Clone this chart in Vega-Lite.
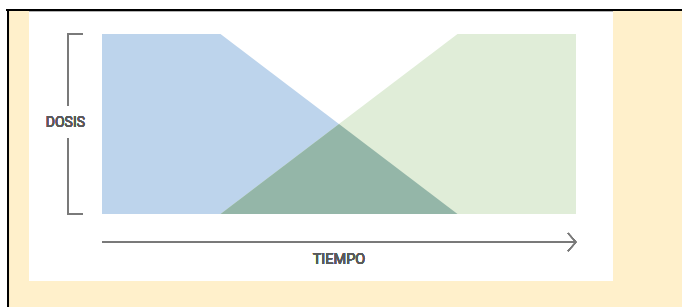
{
  "$schema": "https://vega.github.io/schema/vega-lite/v6.json",
  "width": 474,
  "height": 180,
  "autosize": "none",
  "padding": {"left": 102, "top": 34, "right": 106, "bottom": 93},
  "background": "white",
  "config": {"view": {"stroke": null}},
  "datasets": {
    "dosis": [
      {"serie": "A", "tiempo": 0, "dosis": 1},
      {"serie": "A", "tiempo": 25, "dosis": 1},
      {"serie": "A", "tiempo": 75, "dosis": 0},
      {"serie": "B", "tiempo": 25, "dosis": 0},
      {"serie": "B", "tiempo": 75, "dosis": 1},
      {"serie": "B", "tiempo": 100, "dosis": 1},
      {"serie": "AB", "tiempo": 25, "dosis": 0},
      {"serie": "AB", "tiempo": 50, "dosis": 0.5},
      {"serie": "AB", "tiempo": 75, "dosis": 0}
    ]
  },
  "data": {"name": "dosis"},
  "resolve": {"scale": {"x": "shared", "y": "shared"}},
  "encoding": {
    "x": {"type": "quantitative", "scale": {"domain": [0, 100], "nice": false, "zero": false}, "axis": null},
    "y": {"type": "quantitative", "scale": {"domain": [0, 1], "nice": false}, "axis": null}
  },
  "layer": [
    {
      "mark": {"type": "rect", "fill": "#FFF0CB"},
      "encoding": {"x": {"datum": -19.6}, "x2": {"datum": 122.4}, "y": {"datum": -0.517}, "y2": {"datum": 1.128}}
    },
    {
      "mark": {"type": "rule", "stroke": "#000000", "strokeWidth": 2},
      "encoding": {"x": {"datum": -20.2}, "x2": {"datum": 122.4}, "y": {"datum": 1.133}}
    },
    {
      "mark": {"type": "rule", "stroke": "#000000", "strokeWidth": 2},
      "encoding": {"x": {"datum": -19.83}, "y": {"datum": 1.139}, "y2": {"datum": -0.517}}
    },
    {
      "mark": {"type": "rect", "fill": "#FFFFFF"},
      "encoding": {"x": {"datum": -15.4}, "x2": {"datum": 107.8}, "y": {"datum": -0.372}, "y2": {"datum": 1.128}}
    },
    {
      "mark": {"type": "rule", "stroke": "#B4B4B4", "strokeWidth": 1},
      "encoding": {"x": {"datum": -15.4}, "x2": {"datum": 107.8}, "y": {"datum": 1.125}}
    },
    {
      "transform": [{"filter": "datum.serie === 'A'"}],
      "mark": {"type": "area", "color": "#BDD4EC", "opacity": 1},
      "encoding": {"x": {"field": "tiempo", "type": "quantitative"}, "y": {"field": "dosis", "type": "quantitative", "stack": null}}
    },
    {
      "transform": [{"filter": "datum.serie === 'B'"}],
      "mark": {"type": "area", "color": "#E0EDD8", "opacity": 1},
      "encoding": {"x": {"field": "tiempo", "type": "quantitative"}, "y": {"field": "dosis", "type": "quantitative", "stack": null}}
    },
    {
      "transform": [{"filter": "datum.serie === 'AB'"}],
      "mark": {"type": "area", "color": "#94B6A8", "opacity": 1},
      "encoding": {"x": {"field": "tiempo", "type": "quantitative"}, "y": {"field": "dosis", "type": "quantitative", "stack": null}}
    },
    {
      "mark": {"type": "rule", "stroke": "#7A7A7A", "strokeWidth": 1.3},
      "encoding": {"x": {"datum": -7.17}, "y": {"datum": 1}, "y2": {"datum": 0.6}}
    },
    {
      "mark": {"type": "rule", "stroke": "#7A7A7A", "strokeWidth": 1.3},
      "encoding": {"x": {"datum": -7.17}, "y": {"datum": 0.422}, "y2": {"datum": 0}}
    },
    {
      "mark": {"type": "rule", "stroke": "#7A7A7A", "strokeWidth": 1.3},
      "encoding": {"x": {"datum": -7.3}, "x2": {"datum": -4.0}, "y": {"datum": 1}}
    },
    {
      "mark": {"type": "rule", "stroke": "#7A7A7A", "strokeWidth": 1.3},
      "encoding": {"x": {"datum": -7.3}, "x2": {"datum": -4.0}, "y": {"datum": 0}}
    },
    {
      "mark": {"type": "text", "text": "DOSIS", "font": "Roboto", "fontSize": 14, "fontWeight": 400, "fill": "#5A5A5A", "align": "center", "baseline": "middle"},
      "encoding": {"x": {"datum": -7.72}, "y": {"datum": 0.506}}
    },
    {
      "mark": {"type": "rule", "stroke": "#7A7A7A", "strokeWidth": 1.2},
      "encoding": {"x": {"datum": 0}, "x2": {"datum": 100}, "y": {"datum": -0.156}}
    },
    {
      "mark": {"type": "rule", "stroke": "#7A7A7A", "strokeWidth": 1.2},
      "encoding": {"x": {"datum": 98.3}, "x2": {"datum": 100}, "y": {"datum": -0.106}, "y2": {"datum": -0.156}}
    },
    {
      "mark": {"type": "rule", "stroke": "#7A7A7A", "strokeWidth": 1.2},
      "encoding": {"x": {"datum": 98.3}, "x2": {"datum": 100}, "y": {"datum": -0.206}, "y2": {"datum": -0.156}}
    },
    {
      "mark": {"type": "text", "text": "TIEMPO", "font": "Roboto", "fontSize": 14.5, "fontWeight": 400, "fill": "#5A5A5A", "align": "center", "baseline": "middle"},
      "encoding": {"x": {"datum": 50}, "y": {"datum": -0.256}}
    }
  ]
}
